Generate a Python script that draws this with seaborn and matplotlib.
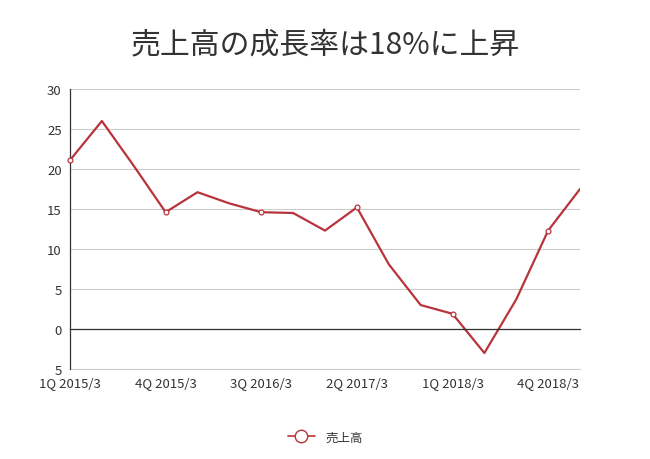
import matplotlib
matplotlib.use("Agg")
import matplotlib.pyplot as plt
import seaborn as sns
import pandas as pd

quarters = ["1Q 2015/3", "2Q 2015/3", "3Q 2015/3", "4Q 2015/3",
            "1Q 2016/3", "2Q 2016/3", "3Q 2016/3", "4Q 2016/3",
            "1Q 2017/3", "2Q 2017/3", "3Q 2017/3", "4Q 2017/3",
            "1Q 2018/3", "2Q 2018/3", "3Q 2018/3", "4Q 2018/3",
            "1Q 2019/3"]
growth = [21.1, 26.0, 20.4, 14.6, 17.1, 15.7, 14.6, 14.5, 12.3, 15.2,
          8.1, 3.0, 1.9, -3.0, 3.7, 12.3, 17.5]
y_ticks = [-5, 0, 5, 10, 15, 20, 25, 30]
y_labels = ["5", "0", "5", "10", "15", "20", "25", "30"]

df = pd.DataFrame({"idx": range(len(quarters)), "q": quarters, "v": growth})

sns.set_style("white")
plt.rcParams['font.family'] = ['Noto Sans CJK JP', 'DejaVu Sans']

red = "#b8343c"
fig = plt.figure(figsize=(6.5, 4.6), dpi=100)
ax = fig.add_axes([70 / 650, 90 / 460, 510 / 650, 280 / 460])

sns.lineplot(data=df, x="idx", y="v", ax=ax, color=red, linewidth=1.6,
             label="売上高", legend=False)
shown = df.iloc[::3]
ax.plot(shown["idx"], shown["v"], linestyle="none", marker="o", ms=3.5,
        mfc="white", mec=red, mew=0.9, clip_on=False, zorder=5)

ax.set_xlim(0, len(quarters) - 1)
ax.set_ylim(-5, 30)
ax.set_yticks(y_ticks)
ax.set_yticklabels(y_labels)
ax.yaxis.grid(True, color="#cccccc", linewidth=0.8)
ax.axhline(-5, color="#cccccc", linewidth=0.8, clip_on=False, zorder=0)
ax.set_axisbelow(True)
for s in ["top", "right"]:
    ax.spines[s].set_visible(False)
ax.spines["left"].set_color("#333333")
ax.spines["left"].set_linewidth(0.9)
ax.spines["bottom"].set_position(("data", 0))
ax.spines["bottom"].set_color("#333333")
ax.spines["bottom"].set_linewidth(0.9)
ax.tick_params(axis="y", length=4, color="#333333", labelsize=9.5, labelcolor="#333333", pad=2)
ax.set_xticks(shown["idx"])
ax.tick_params(axis="x", length=4, color="#333333", labelbottom=False)
ax.set_xlabel("")
ax.set_ylabel("")

sec = ax.secondary_xaxis(0.0)
sec.set_xticks(shown["idx"])
sec.set_xticklabels(shown["q"])
sec.tick_params(length=0, labelsize=9.5, labelcolor="#333333", pad=5)
sec.spines["bottom"].set_visible(False)

fig.text(0.5, 1 - 45 / 460, "売上高の成長率は18%に上昇", ha="center", va="center",
         fontsize=21.5, color="#333333")

handle = plt.Line2D([], [], color=red, linewidth=1.2, marker="o", ms=9,
                    mfc="white", mec=red, mew=1)
fig.legend([handle], ["売上高"], loc="center", bbox_to_anchor=(0.5, 1 - 438 / 460),
           frameon=False, fontsize=9, handlelength=2.2, labelcolor="#333333")

fig.savefig("out.png", dpi=100)
